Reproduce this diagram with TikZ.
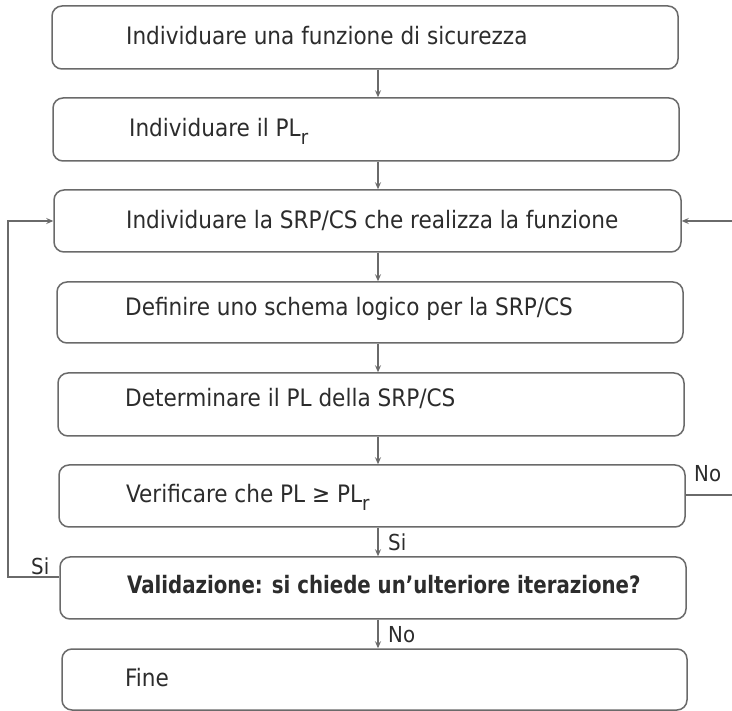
\documentclass[tikz,border=0pt]{standalone}
\usepackage{fontspec}
\setmainfont{DejaVu Sans Condensed}
\usetikzlibrary{arrows.meta}
\definecolor{lin}{HTML}{6A6A6A}
\definecolor{txt}{HTML}{2C2C2C}
\begin{document}
\begin{tikzpicture}[x=1pt,y=-1pt,
  box/.style={draw=lin,line width=1.5pt,rounded corners=10pt,fill=white,inner sep=0pt},
  lbl/.style={anchor=base west,inner sep=0pt,text=txt,font=\fontsize{24}{29}\selectfont},
  tag/.style={anchor=west,inner sep=0pt,text=txt,font=\fontsize{22}{26}\selectfont},
  conn/.style={draw=lin,line width=1.3pt},
  arr/.style={conn,-{Stealth[length=7pt,width=6pt,inset=2.5pt]}}]
\useasboundingbox (0,0) rectangle (732,711);
\fill[white] (0,0) rectangle (732,711);
\newcommand{\PLr}{PL\raisebox{-0.3em}{\fontsize{20}{21}\selectfont r}}
% boxes
\node[box,minimum width=626pt,minimum height=63pt] (b1) at (365,37.5) {};
\node[box,minimum width=626pt,minimum height=63pt] (b2) at (366,129.5) {};
\node[box,minimum width=627pt,minimum height=62pt] (b3) at (367.5,221) {};
\node[box,minimum width=626pt,minimum height=61pt] (b4) at (370,312.5) {};
\node[box,minimum width=626pt,minimum height=63pt] (b5) at (371,404.5) {};
\node[box,minimum width=626pt,minimum height=62pt] (b6) at (372,496) {};
\node[box,minimum width=626pt,minimum height=62pt] (b7) at (373,588) {};
\node[box,minimum width=625pt,minimum height=61pt] (b8) at (374.5,679.5) {};
% texts
\node[lbl] (t1) at (126,45) {Individuare una funzione di sicurezza};
\node[lbl] (t2) at (129,137) {Individuare il \PLr};
\node[lbl] (t3) at (126,229) {Individuare la SRP/CS che realizza la funzione};
\node[lbl] (t4) at (125,316) {Definire uno schema logico per la SRP/CS};
\node[lbl] (t5) at (125,407) {Determinare il PL della SRP/CS};
\node[lbl] (t6) at (126,503) {Verificare che PL ≥ \PLr};
\node[lbl,font=\fontsize{24}{29}\selectfont\bfseries] (t7) at (127,594) {\scalebox{0.915}[1]{Validazione: si chiede un’ulteriore iterazione?}};
\node[lbl] (t8) at (125,686) {Fine};
% connectors
\coordinate (ax) at (378,0);
\draw[arr] (b1.south -| ax) -- (b2.north -| ax);
\draw[arr] (b2.south -| ax) -- (b3.north -| ax);
\draw[arr] (b3.south -| ax) -- (b4.north -| ax);
\draw[arr] (b4.south -| ax) -- (b5.north -| ax);
\draw[arr] (b5.south -| ax) -- (b6.north -| ax);
\draw[arr] (b6.south -| ax) -- (b7.north -| ax);
\draw[arr] (b7.south -| ax) -- (b8.north -| ax);
\coordinate (ly) at (0,577);
\coordinate (lx) at (8,0);
\coordinate (ry) at (0,495);
\coordinate (rx) at (733,0);
\draw[arr] (b7.west |- ly) -- (lx |- ly) -- (lx |- b3.west) -- (b3.west);
\draw[arr] (b6.east |- ry) -- (rx |- ry) -- (rx |- b3.east) -- (b3.east);
% tags
\node[tag] (s1) at (388,542) {Si};
\node[tag] (n1) at (388,635) {No};
\node[tag] (s2) at (31,566) {Si};
\node[tag] (n2) at (694,474) {No};
\end{tikzpicture}
\end{document}
